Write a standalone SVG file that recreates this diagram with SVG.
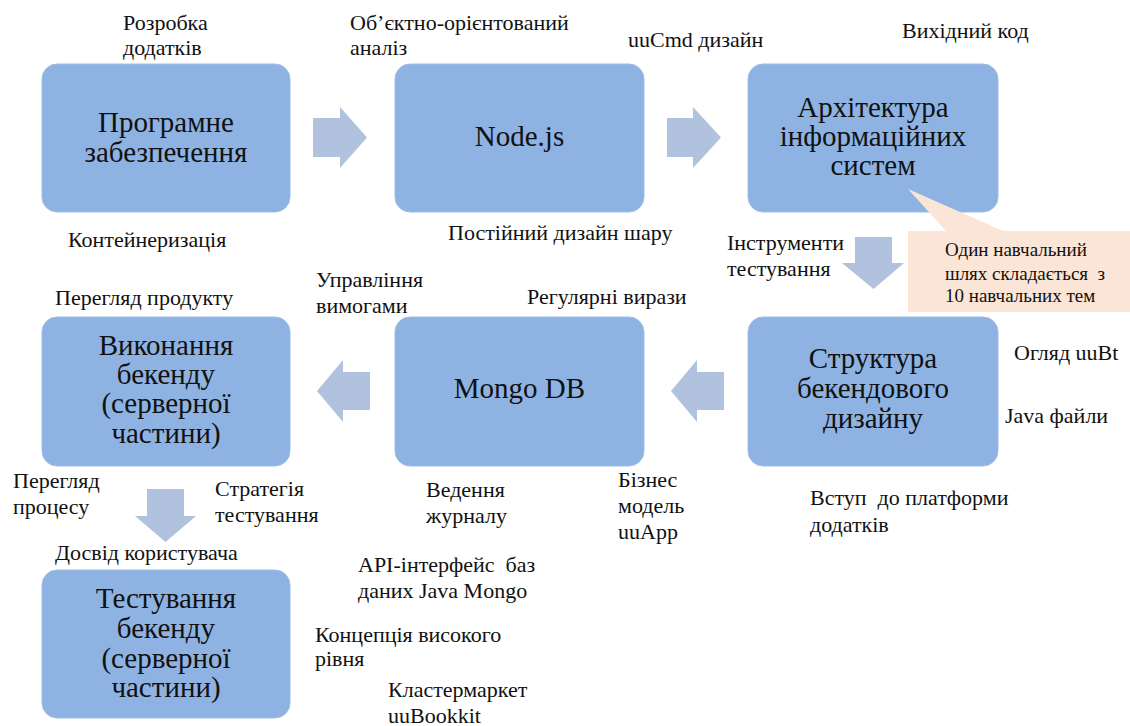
<svg xmlns="http://www.w3.org/2000/svg" width="1130" height="726" viewBox="0 0 1130 726">
<style>
.box{fill:#8eb3e2;stroke:#9dbde6;stroke-width:1}
.bt{font-family:"Liberation Serif","Times New Roman",serif;font-size:29px;fill:#111;text-anchor:middle}
.lb{font-family:"Liberation Serif","Times New Roman",serif;font-size:22px;fill:#111}
.ct{font-family:"Liberation Serif","Times New Roman",serif;font-size:19px;fill:#111}
.arr{fill:#b1c2de}
</style>
<rect width="1130" height="726" fill="#ffffff"/>

<g id="connectors">
<polygon class="arr" points="313,118 340,118 340,107 367,137.5 340,168 340,157 313,157"/>
<polygon class="arr" points="667,118 693,118 693,107 721,137.5 693,168 693,157 667,157"/>
<polygon class="arr" points="855,237 892,237 892,263 904,263 873.5,289 842,263 855,263"/>
<polygon class="arr" points="724,372 697,372 697,360 671,391 697,422 697,410 724,410"/>
<polygon class="arr" points="370,372 343,372 343,360 317,391 343,422 343,410 370,410"/>
<polygon class="arr" points="147,489 184,489 184,516 196,516 165.5,542 135,516 147,516"/>
</g>

<g id="node-software">
<rect class="box" x="42" y="64" width="248" height="148" rx="15"/>
<text class="bt" x="166" y="132">Програмне</text>
<text class="bt" x="166" y="162">забезпечення</text>
</g>

<g id="node-nodejs">
<rect class="box" x="395" y="64" width="249" height="148" rx="15"/>
<text class="bt" x="519.5" y="146">Node.js</text>
</g>

<g id="node-architecture">
<rect class="box" x="748" y="64" width="250" height="148" rx="15"/>
<text class="bt" x="873" y="117">Архітектура</text>
<text class="bt" x="873" y="146">інформаційних</text>
<text class="bt" x="873" y="175">систем</text>
</g>

<g id="node-structure">
<rect class="box" x="748" y="317" width="250" height="149" rx="15"/>
<text class="bt" x="873" y="368">Структура</text>
<text class="bt" x="873" y="398">бекендового</text>
<text class="bt" x="873" y="428">дизайну</text>
</g>

<g id="node-mongo">
<rect class="box" x="395" y="317" width="249" height="149" rx="15"/>
<text class="bt" x="519.5" y="398">Mongo DB</text>
</g>

<g id="node-backend-exec">
<rect class="box" x="42" y="317" width="248" height="149" rx="15"/>
<text class="bt" x="166" y="355">Виконання</text>
<text class="bt" x="166" y="384">бекенду</text>
<text class="bt" x="166" y="413">(серверної</text>
<text class="bt" x="166" y="443">частини)</text>
</g>

<g id="node-backend-test">
<rect class="box" x="42" y="570" width="248" height="148" rx="15"/>
<text class="bt" x="166" y="608">Тестування</text>
<text class="bt" x="166" y="638">бекенду</text>
<text class="bt" x="166" y="668">(серверної</text>
<text class="bt" x="166" y="697">частини)</text>
</g>

<g id="callout">
<polygon points="908,189 946,231 1003,231" fill="#fbe5d6"/>
<rect x="908" y="231" width="222" height="81" fill="#fbe5d6"/>
<text class="ct" x="945" y="256">Один навчальний</text>
<text class="ct" x="945" y="280" xml:space="preserve">шлях складається  з</text>
<text class="ct" x="945" y="302">10 навчальних тем</text>
</g>

<g id="labels">
<text class="lb" x="123" y="30">Розробка</text>
<text class="lb" x="123" y="55">додатків</text>
<text class="lb" x="350" y="30">Об’єктно-орієнтований</text>
<text class="lb" x="350" y="55">аналіз</text>
<text class="lb" x="628" y="47">uuCmd дизайн</text>
<text class="lb" x="902" y="38">Вихідний код</text>
<text class="lb" x="68" y="247">Контейнеризація</text>
<text class="lb" x="448" y="240">Постійний дизайн шару</text>
<text class="lb" x="727" y="250">Інструменти</text>
<text class="lb" x="727" y="276">тестування</text>
<text class="lb" x="316" y="287">Управління</text>
<text class="lb" x="316" y="313">вимогами</text>
<text class="lb" x="55" y="305">Перегляд продукту</text>
<text class="lb" x="527" y="304">Регулярні вирази</text>
<text class="lb" x="1014" y="360">Огляд uuBt</text>
<text class="lb" x="1005" y="423">Java файли</text>
<text class="lb" x="13" y="488">Перегляд</text>
<text class="lb" x="13" y="514">процесу</text>
<text class="lb" x="215" y="496">Стратегія</text>
<text class="lb" x="215" y="522">тестування</text>
<text class="lb" x="426" y="497">Ведення</text>
<text class="lb" x="426" y="523">журналу</text>
<text class="lb" x="618" y="487">Бізнес</text>
<text class="lb" x="618" y="513">модель</text>
<text class="lb" x="618" y="539">uuApp</text>
<text class="lb" x="810" y="505" xml:space="preserve">Вступ  до платформи</text>
<text class="lb" x="810" y="532">додатків</text>
<text class="lb" x="55" y="560">Досвід користувача</text>
<text class="lb" x="358" y="572" xml:space="preserve">API-інтерфейс  баз</text>
<text class="lb" x="358" y="598">даних Java Mongo</text>
<text class="lb" x="315" y="642">Концепція високого</text>
<text class="lb" x="315" y="666">рівня</text>
<text class="lb" x="388" y="697">Кластермаркет</text>
<text class="lb" x="388" y="723">uuBookkit</text>
</g>
</svg>
